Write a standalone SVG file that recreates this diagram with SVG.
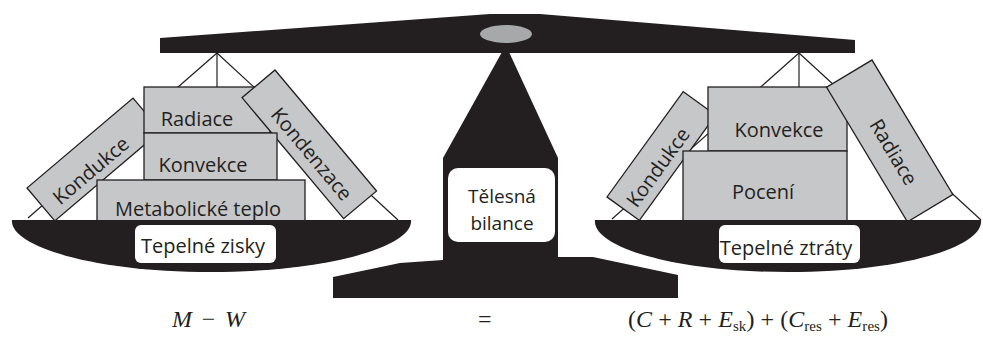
<svg xmlns="http://www.w3.org/2000/svg" width="983" height="338" viewBox="0 0 983 338">
<style>
.box{fill:#c6c7c9;stroke:#231f20;stroke-width:1.3}
.blk{fill:#231f20}
.wbox{fill:#ffffff}
.t{font-family:"Open Sans","Noto Sans",sans-serif;font-size:20px;fill:#231f20;text-anchor:middle}
.rope{stroke:#231f20;stroke-width:1.2;fill:none}
.f{font-family:"Liberation Serif","Times New Roman",serif;font-size:24px;fill:#231f20}
.i{font-style:italic}
.s{font-size:15px}
</style>
<rect width="983" height="338" fill="#ffffff"/>
<g id="connectors">
<line class="rope" x1="217" y1="53" x2="28" y2="218"/>
<line class="rope" x1="217" y1="53" x2="217" y2="88"/>
<line class="rope" x1="217" y1="53" x2="398" y2="220"/>
<line class="rope" x1="799" y1="53" x2="612" y2="219"/>
<line class="rope" x1="799" y1="53" x2="799" y2="88"/>
<line class="rope" x1="799" y1="53" x2="981" y2="220"/>
</g>
<g id="beam">
<polygon class="blk" points="160,38 490,14 540,14 855,40 855,53 160,53"/>
<ellipse cx="506" cy="34" rx="26" ry="9" fill="#a7a8aa"/>
</g>
<g id="stand">
<polygon class="blk" points="502,52 509,52 558,158 558,257 593,257 678,275 678,298 333,298 333,277 400,263 443,260 443,158"/>
</g>
<g id="telesna-bilance">
<rect class="wbox" x="448" y="168" width="107" height="74" rx="10"/>
<text class="t" x="502" y="203" style="font-size:19px">Tělesná</text>
<text class="t" x="502" y="230" style="font-size:19px">bilance</text>
</g>
<g id="left-kondukce" transform="translate(27,188) rotate(-40.3)">
<rect class="box" x="0" y="0" width="139" height="43"/>
<text class="t" x="60" y="35">Kondukce</text>
</g>
<g id="left-radiace">
<rect class="box" x="144" y="87" width="126" height="46"/>
<text class="t" x="197" y="126">Radiace</text>
</g>
<g id="left-kondenzace" transform="translate(275,70) rotate(50)">
<rect class="box" x="0" y="0" width="158" height="43"/>
<text class="t" x="88" y="33">Kondenzace</text>
</g>
<g id="left-konvekce">
<rect class="box" x="144" y="133" width="133" height="47"/>
<text class="t" x="203" y="172">Konvekce</text>
</g>
<g id="metabolicke-teplo">
<rect class="box" x="97" y="180" width="208" height="45"/>
<text class="t" x="198" y="216">Metabolické teplo</text>
</g>
<g id="pan-left">
<path class="blk" d="M12,220 H411 C414,246 330,272 211,272 C92,272 9,246 12,220 Z"/>
</g>
<g id="tepelne-zisky">
<rect class="wbox" x="135" y="225" width="141" height="38" rx="6"/>
<text class="t" x="203" y="253">Tepelné zisky</text>
</g>
<g id="right-kondukce" transform="translate(607,197) rotate(-54.1)">
<rect class="box" x="0" y="0" width="130" height="40"/>
<text class="t" x="54" y="31">Kondukce</text>
</g>
<g id="right-konvekce">
<rect class="box" x="708" y="87" width="139" height="64"/>
<text class="t" x="779" y="137">Konvekce</text>
</g>
<g id="poceni">
<rect class="box" x="683" y="151" width="164" height="71"/>
<text class="t" x="763" y="199">Pocení</text>
</g>
<g id="right-radiace" transform="translate(872,60) rotate(59)">
<rect class="box" x="0" y="0" width="157" height="53"/>
<text class="t" x="90" y="36">Radiace</text>
</g>
<g id="pan-right">
<path class="blk" d="M595,220 H981 C984,246 905,272 788,272 C671,272 592,246 595,220 Z"/>
</g>
<g id="tepelne-ztraty">
<rect class="wbox" x="719" y="225" width="141" height="38" rx="6"/>
<text class="t" x="786" y="255">Tepelné ztráty</text>
</g>
<g id="equation">
<text class="f" x="172" y="327" textLength="73" lengthAdjust="spacing"><tspan class="i">M</tspan> − <tspan class="i">W</tspan></text>
<text class="f" x="478" y="327">=</text>
<text class="f" x="628" y="327" textLength="260" lengthAdjust="spacing">(<tspan class="i">C</tspan> + <tspan class="i">R</tspan> + <tspan class="i">E</tspan><tspan class="s" dy="4">sk</tspan><tspan dy="-4">) + (</tspan><tspan class="i">C</tspan><tspan class="s" dy="4">res</tspan><tspan dy="-4"> + </tspan><tspan class="i">E</tspan><tspan class="s" dy="4">res</tspan><tspan dy="-4">)</tspan></text>
</g>
</svg>
